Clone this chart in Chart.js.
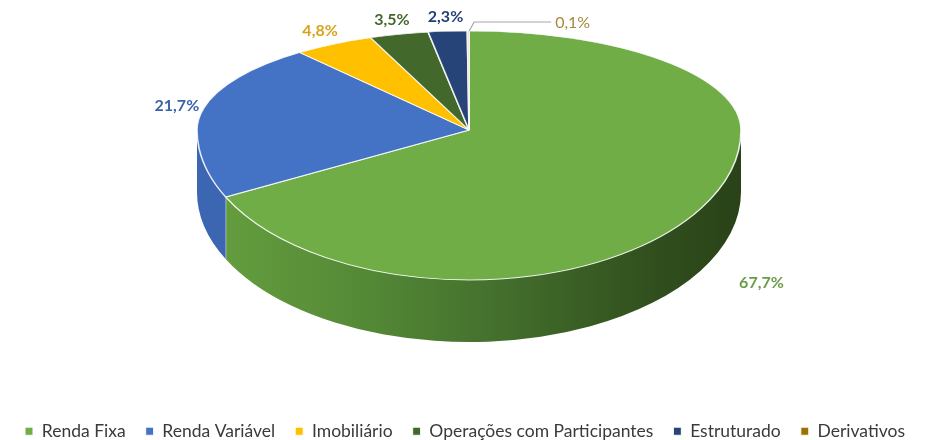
<!DOCTYPE html>
<html><head><meta charset="utf-8">
<script src="https://cdn.jsdelivr.net/npm/chart.js@4/dist/chart.umd.min.js"></script>
<style>html,body{margin:0;padding:0;background:#fff}#wrap{width:930px;height:440px;position:relative}</style>
</head><body><div id="wrap"><canvas id="c"></canvas></div>
<script>
// ---- data ----
const categories = ['Renda Fixa','Renda Variável','Imobiliário','Operações com Participantes','Estruturado','Derivativos'];
const shares = [67.7, 21.7, 4.8, 3.5, 2.3, 0.1];
const valueLabels = ['67,7%','21,7%','4,8%','3,5%','2,3%','0,1%'];
const topColors = ['#70AD47','#4472C4','#FFC000','#43682B','#264478','#997300'];
const labelColors = ['#6a9b45','#3b62ad','#d9a31f','#43682B','#243f73','#a8893a'];

// ---- projection frame of the 3D pie (layout, not data) ----
const frame = {cx:469, cy:130, rx:272, ryBack:99, ryFront:150, depth:62};

function sideFill(ctx, i){
  if (i === 0){
    const g = ctx.createLinearGradient(frame.cx-frame.rx, 0, frame.cx+frame.rx, 0);
    g.addColorStop(0, '#67a040');
    g.addColorStop(0.3, '#548a36');
    g.addColorStop(0.55, '#44702d');
    g.addColorStop(0.8, '#33531f');
    g.addColorStop(1, '#294218');
    return g;
  }
  if (i === 1) return '#3c66b2';
  return topColors[i];
}

function drawLabels(chart){
  const ctx = chart.ctx;
  const arcs = chart.getDatasetMeta(0).data;
  ctx.save();
  ctx.textBaseline = 'middle';
  arcs.forEach((arc,i)=>{
    const mid = (arc.startAngle+arc.endAngle)/2;
    const c = Math.cos(mid), s = Math.sin(mid);
    const ry = s < 0 ? frame.ryBack : frame.ryFront;
    const px = frame.cx + frame.rx*c, py = frame.cy + ry*s;
    ctx.fillStyle = labelColors[i];
    if (shares[i] < 1){
      ctx.font = '16px Lato';
      ctx.strokeStyle = '#a6a6a6'; ctx.lineWidth = 1.2;
      ctx.beginPath();
      ctx.moveTo(px+1, py);
      ctx.lineTo(px+6, py-9);
      ctx.lineTo(px+83, py-9);
      ctx.stroke();
      ctx.textAlign = 'left';
      ctx.fillText(valueLabels[i], px+87, py-8);
    } else {
      ctx.font = 'bold 16px Lato';
      const w = ctx.measureText(valueLabels[i]).width;
      let x = frame.cx + 1.1*frame.rx*c;
      let y = frame.cy + 1.15*ry*s;
      if (s > 0){ y += frame.depth; x += c*w; }
      ctx.textAlign = 'center';
      ctx.fillText(valueLabels[i], x, y);
    }
  });
  ctx.restore();
}

const pie3d = {
  id:'pie3d',
  beforeDatasetsDraw(chart){
    const ctx = chart.ctx;
    const arcs = chart.getDatasetMeta(0).data;
    const R = arcs[0].outerRadius, ox = arcs[0].x, oy = arcs[0].y;
    const setT = (sy)=>ctx.setTransform(frame.rx/R,0,0,sy/R, frame.cx-ox*frame.rx/R, frame.cy-oy*sy/R);
    // side walls (front half only)
    arcs.forEach((arc,i)=>{
      const s = Math.max(arc.startAngle, 0), e = Math.min(arc.endAngle, Math.PI);
      if (e <= s) return;
      ctx.save();
      setT(frame.ryFront);
      const dy = frame.depth*R/frame.ryFront;
      ctx.beginPath();
      ctx.arc(ox, oy, R, s, e);
      ctx.arc(ox, oy+dy, R, e, s, true);
      ctx.closePath();
      ctx.setTransform(1,0,0,1,0,0);
      ctx.fillStyle = sideFill(ctx, i);
      ctx.fill();
      ctx.restore();
      if (e < Math.PI && e === arc.endAngle){
        ctx.save();
        setT(frame.ryFront);
        ctx.beginPath();
        ctx.moveTo(ox+R*Math.cos(e), oy+R*Math.sin(e));
        ctx.lineTo(ox+R*Math.cos(e), oy+R*Math.sin(e)+dy);
        ctx.setTransform(1,0,0,1,0,0);
        ctx.strokeStyle='rgba(225,235,245,0.9)'; ctx.lineWidth=1.2; ctx.stroke();
        ctx.restore();
      }
    });
    // top face: back half and front half with their own vertical scale
    ctx.save();
    ctx.beginPath(); ctx.rect(0,0,chart.width,frame.cy+0.5); ctx.clip();
    setT(frame.ryBack);
    arcs.forEach(a=>a.draw(ctx));
    ctx.restore();
    ctx.save();
    ctx.beginPath(); ctx.rect(0,frame.cy,chart.width,chart.height); ctx.clip();
    setT(frame.ryFront);
    arcs.forEach(a=>a.draw(ctx));
    ctx.restore();
    drawLabels(chart);
    return false;
  }
};

new Chart(document.getElementById('c'), {
  type:'pie',
  data:{
    labels: categories,
    datasets:[{
      data: shares,
      backgroundColor: topColors,
      borderColor: 'rgba(255,255,255,0.85)',
      borderWidth: 1.2
    }]
  },
  options:{
    responsive:true,
    maintainAspectRatio:false,
    animation:false,
    events:[],
    layout:{padding:{bottom:-10}},
    plugins:{
      tooltip:{enabled:false},
      legend:{
        position:'bottom',
        labels:{
          boxWidth:8, boxHeight:8, padding:20,
          color:'#3a3a3a',
          font:{family:'Lato', size:17.5}
        }
      }
    }
  },
  plugins:[pie3d]
});
</script>
</body></html>
